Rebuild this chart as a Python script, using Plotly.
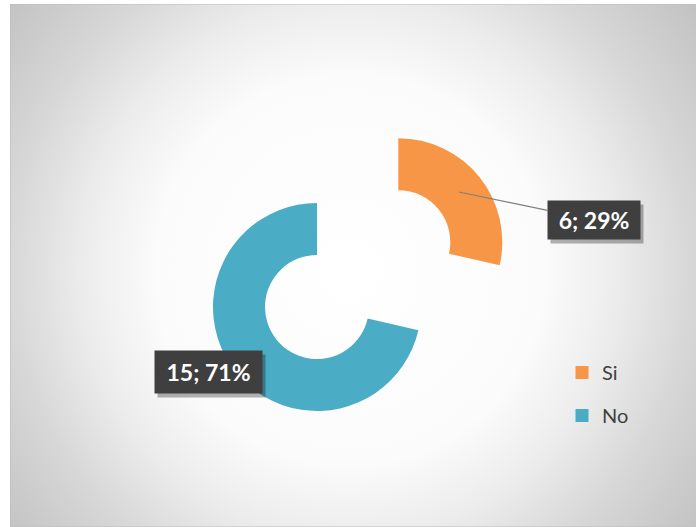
import base64
import plotly.graph_objects as go

# ------------------------------------------------------------
# data
# ------------------------------------------------------------
labels = ["Si", "No"]
values = [6, 15]
colors = ["#F79646", "#4BACC6"]
pulls = [1.0, 0.0]

W, H = 696, 527
FONT = "Lato, Open Sans, Liberation Sans, sans-serif"

total = sum(values)
label_texts = [f"{v}; {round(100 * v / total)}%" for v in values]

# ------------------------------------------------------------
# radial gradient background (svg data uri)
# ------------------------------------------------------------
bg_w, bg_h = 690, 523
svg = f"""<svg xmlns='http://www.w3.org/2000/svg' width='{bg_w}' height='{bg_h}'>
<defs><radialGradient id='g' gradientUnits='userSpaceOnUse' cx='340' cy='266' r='432'>
<stop offset='0' stop-color='#ffffff'/>
<stop offset='0.45' stop-color='#fbfbfb'/>
<stop offset='0.62' stop-color='#ececec'/>
<stop offset='0.79' stop-color='#d7d7d7'/>
<stop offset='1' stop-color='#c3c3c3'/>
</radialGradient></defs>
<rect x='0' y='0' width='{bg_w}' height='{bg_h}' fill='url(#g)' stroke='#bdbdbd' stroke-width='1'/>
</svg>"""
bg_uri = "data:image/svg+xml;base64," + base64.b64encode(svg.encode()).decode()

# ------------------------------------------------------------
# figure
# ------------------------------------------------------------
fig = go.Figure()

# pie centre (unpulled slice) at (317, 307) px, r = box/4 with pull 1
cx, cy, box = 317, 307, 416
fig.add_trace(go.Pie(
    labels=labels,
    values=values,
    marker=dict(colors=colors, line=dict(width=0)),
    hole=0.5,
    pull=pulls,
    sort=False,
    direction="clockwise",
    rotation=0,
    textinfo="none",
    showlegend=False,
    domain=dict(x=[(cx - box / 2) / W, (cx + box / 2) / W],
                y=[(H - cy - box / 2) / H, (H - cy + box / 2) / H]),
))

# legend entries
for i, (lab, col) in enumerate(zip(labels, colors)):
    fig.add_trace(go.Scatter(
        x=[None], y=[None], mode="markers", name=lab,
        legendgroup=f"g{i}",
        marker=dict(symbol="square", size=13, color=col),
    ))

# data labels
label_pos = [(594, 220), (208, 372)]
label_size = [(84, 30), (99, 34)]
arrow_tip = [(459, 192), None]
for txt, (bx, by), (bw, bh), tip in zip(label_texts, label_pos, label_size, arrow_tip):
    # shadow
    fig.add_annotation(
        x=(bx + 3) / W, y=(H - by - 4) / H, xref="paper", yref="paper",
        xanchor="center", yanchor="middle",
        text="&nbsp;", showarrow=False, width=bw, height=bh,
        font=dict(family=FONT, size=23),
        bgcolor="rgba(0,0,0,0.3)", borderpad=4,
    )
    if tip:
        fig.add_annotation(
            x=tip[0] / W, y=(H - tip[1]) / H, xref="paper", yref="paper",
            ax=bx - tip[0], ay=by - tip[1],
            text=txt, showarrow=True, arrowhead=0, arrowwidth=1.2,
            arrowcolor="#7f7f7f", width=bw, height=bh,
            font=dict(family=FONT, size=23, color="white", weight="bold"),
            bgcolor="#3f3f3f", borderpad=4,
        )
    else:
        fig.add_annotation(
            x=bx / W, y=(H - by) / H, xref="paper", yref="paper",
            xanchor="center", yanchor="middle",
            text=txt, showarrow=False, width=bw, height=bh,
            font=dict(family=FONT, size=23, color="white", weight="bold"),
            bgcolor="#3f3f3f", borderpad=4,
        )

fig.update_layout(
    width=W, height=H,
    margin=dict(l=0, r=0, t=0, b=0),
    paper_bgcolor="white",
    plot_bgcolor="rgba(0,0,0,0)",
    xaxis=dict(visible=False),
    yaxis=dict(visible=False),
    font=dict(family=FONT, color="#404040"),
    legend=dict(
        x=562 / W, y=(H - 353) / H, xanchor="left", yanchor="top",
        bgcolor="rgba(0,0,0,0)", font=dict(size=20, color="#404040"),
        tracegroupgap=14, traceorder="grouped",
    ),
    images=[dict(
        source=bg_uri, xref="paper", yref="paper",
        x=10 / W, y=(H - 4) / H, sizex=bg_w / W, sizey=bg_h / H,
        xanchor="left", yanchor="top", sizing="stretch", layer="below",
    )],
)

fig.write_html("out.html", config={"displayModeBar": False},
               post_script="document.body.style.margin='0px';")
